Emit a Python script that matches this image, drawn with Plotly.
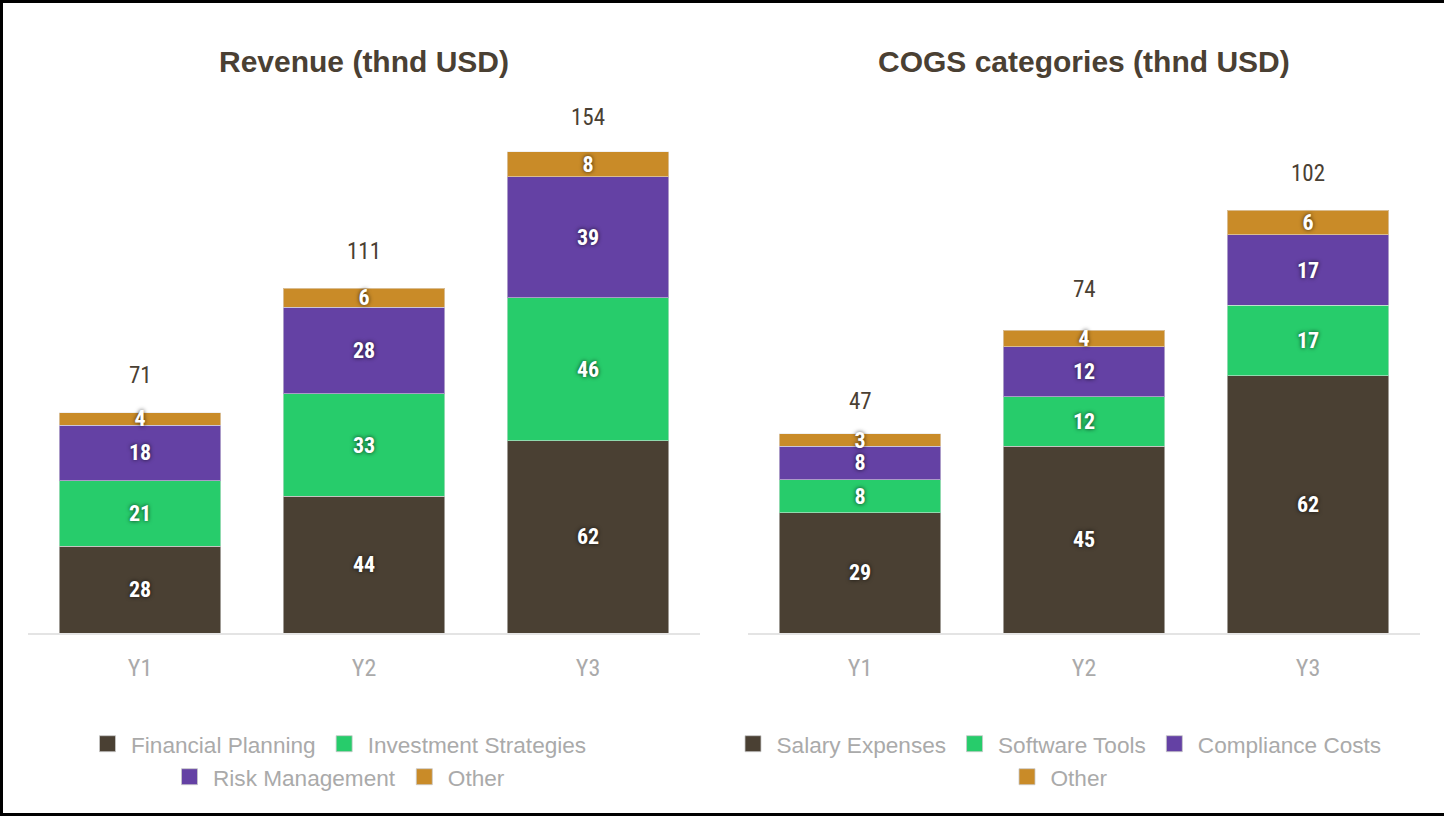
import plotly.graph_objects as go

# ---- data ----
years = ["Y1", "Y2", "Y3"]

rev_financial_planning = [28, 44, 62]
rev_investment_strategies = [21, 33, 46]
rev_risk_management = [18, 28, 39]
rev_other = [4, 6, 8]
rev_totals = [71, 111, 154]

cogs_salary = [29, 45, 62]
cogs_software = [8, 12, 17]
cogs_compliance = [8, 12, 17]
cogs_other = [3, 4, 6]
cogs_totals = [47, 74, 102]

# ---- styling ----
W, H = 1444, 816
BROWN = "#4a4033"
GREEN = "#27cc6b"
PURPLE = "#6441a4"
GOLD = "#c98b28"
GREY_TXT = "#aaaaaa"
NARROW = "Roboto Condensed, Liberation Sans Narrow, Arial Narrow, Roboto, sans-serif"
SANS = "Liberation Sans, Arial, sans-serif"

LEFT_DOM = [28 / W, 700 / W]
RIGHT_DOM = [748 / W, 1420 / W]
Y_DOM = [(H - 633) / H, (H - 100) / H]

fig = go.Figure()


def add_bar(name, values, color, xa, ya, legend):
    fig.add_trace(go.Bar(
        x=years, y=values, name=name, xaxis=xa, yaxis=ya, showlegend=False,
        marker=dict(color=color, line=dict(color="rgba(230,230,230,0.55)", width=1)),
        text=values, textposition="inside", insidetextanchor="middle",
        constraintext="none", textangle=0,
        textfont=dict(family=NARROW, size=22, color="white", weight="bold",
                      shadow="0px 0px 4px rgba(0,0,0,0.75)"),
        hoverinfo="skip",
    ))
    # legend key: a square swatch in the series colour
    fig.add_trace(go.Scatter(
        x=[None], y=[None], name=name, xaxis=xa, yaxis=ya, legend=legend,
        mode="markers",
        marker=dict(symbol="square", size=16, color=color,
                    line=dict(color="rgba(200,200,200,0.8)", width=1)),
        hoverinfo="skip",
    ))


add_bar("Financial Planning", rev_financial_planning, BROWN, "x", "y", "legend")
add_bar("Investment Strategies", rev_investment_strategies, GREEN, "x", "y", "legend")
add_bar("Risk Management", rev_risk_management, PURPLE, "x", "y", "legend2")
add_bar("Other", rev_other, GOLD, "x", "y", "legend2")

add_bar("Salary Expenses", cogs_salary, BROWN, "x2", "y2", "legend3")
add_bar("Software Tools", cogs_software, GREEN, "x2", "y2", "legend3")
add_bar("Compliance Costs", cogs_compliance, PURPLE, "x2", "y2", "legend3")
add_bar("Other", cogs_other, GOLD, "x2", "y2", "legend4")

# totals above stacks
annotations = []
for xa, ya, tots in (("x", "y", rev_totals), ("x2", "y2", cogs_totals)):
    for yr, t in zip(years, tots):
        annotations.append(dict(
            x=yr, y=t, xref=xa, yref=ya, text=str(t), showarrow=False,
            yshift=37, yanchor="middle",
            font=dict(family=NARROW, size=23, color=BROWN),
        ))

# panel titles
for cx, title in ((364 / W, "Revenue (thnd USD)"), (1084 / W, "COGS categories (thnd USD)")):
    annotations.append(dict(
        x=cx, y=(H - 62) / H, xref="paper", yref="paper", text=title,
        showarrow=False, xanchor="center", yanchor="middle",
        font=dict(family=SANS, size=30, color=BROWN, weight="bold"),
    ))

axis_x = dict(
    type="category", showgrid=False, zeroline=False, showline=True,
    linecolor="#e4e4e4", linewidth=2, ticks="",
    tickfont=dict(family=NARROW, size=24, color=GREY_TXT),
    ticklabelstandoff=12, fixedrange=True,
)
axis_y = dict(visible=False, showgrid=False, zeroline=False, fixedrange=True)


def legend_row(cx, cy):
    return dict(
        orientation="h", x=cx, y=cy, xanchor="center", yanchor="middle",
        font=dict(family=SANS, size=22.6, color=GREY_TXT),
        bgcolor="rgba(0,0,0,0)", itemclick=False, itemdoubleclick=False,
        traceorder="normal", itemsizing="trace", itemwidth=37,
    )


fig.update_layout(
    width=W, height=H,
    margin=dict(l=0, r=0, t=0, b=0),
    paper_bgcolor="white", plot_bgcolor="white",
    barmode="stack", bargap=0.28,
    xaxis=dict(domain=LEFT_DOM, anchor="y", **axis_x),
    yaxis=dict(domain=Y_DOM, anchor="x", range=[0, 533 / 3.104], **axis_y),
    xaxis2=dict(domain=RIGHT_DOM, anchor="y2", **axis_x),
    yaxis2=dict(domain=Y_DOM, anchor="x2", range=[0, 533 / 4.147], **axis_y),
    legend=legend_row(338 / W, (H - 744) / H),
    legend2=legend_row(338 / W, (H - 777) / H),
    legend3=legend_row(1058 / W, (H - 744) / H),
    legend4=legend_row(1058 / W, (H - 777) / H),
    annotations=annotations,
    shapes=[
        dict(type="rect", xref="paper", yref="paper", x0=0, x1=1, y0=1 - 3 / H, y1=1,
             fillcolor="black", line=dict(width=0)),
        dict(type="rect", xref="paper", yref="paper", x0=0, x1=1, y0=0, y1=3 / H,
             fillcolor="black", line=dict(width=0)),
        dict(type="rect", xref="paper", yref="paper", x0=0, x1=3 / W, y0=0, y1=1,
             fillcolor="black", line=dict(width=0)),
    ],
    showlegend=True,
)

fig.write_html("out.html", config={"displayModeBar": False})
